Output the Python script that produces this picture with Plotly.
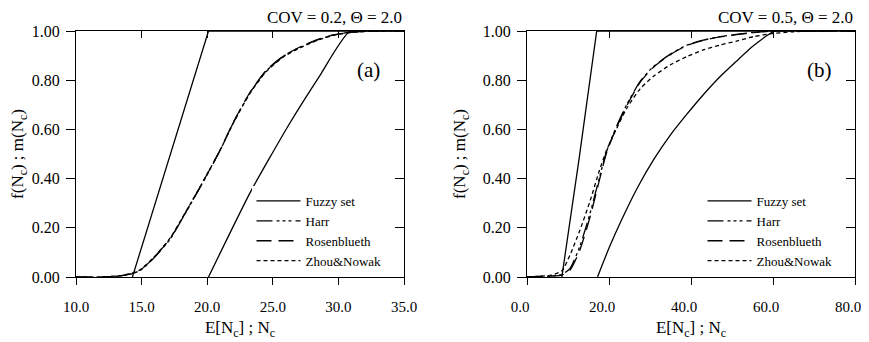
import plotly.graph_objects as go

# ---------------- data: panel (a) COV = 0.2 ----------------
a_fuzzy_lo_x = [14.3, 17.1, 20.1, 35.0]
a_fuzzy_lo_y = [0.0, 0.48, 1.0, 1.0]
a_fuzzy_hi_x = [20.1, 23.3, 26.2, 28.6, 30.9, 35.0]
a_fuzzy_hi_y = [0.0, 0.346, 0.617, 0.82, 1.0, 1.0]

a_prob_x = [10.0, 12.0, 13.0, 13.5, 14.3, 14.9, 15.9, 17.2, 18.4, 19.7, 21.0, 22.0, 23.3, 24.5, 25.8, 27.1, 28.3, 29.6, 30.9, 33.0, 35.0]
a_harr_y = [0.0, 0.0, 0.003, 0.006, 0.014, 0.027, 0.075, 0.156, 0.265, 0.387, 0.516, 0.628, 0.752, 0.838, 0.897, 0.935, 0.962, 0.983, 0.995, 1.0, 1.0]
a_rosen_y = [0.0, 0.0, 0.003, 0.006, 0.014, 0.028, 0.077, 0.158, 0.267, 0.389, 0.518, 0.630, 0.754, 0.840, 0.898, 0.936, 0.963, 0.984, 0.995, 1.0, 1.0]
a_zhou_y = [0.0, 0.0, 0.004, 0.007, 0.016, 0.030, 0.078, 0.160, 0.268, 0.390, 0.517, 0.627, 0.750, 0.835, 0.894, 0.932, 0.960, 0.982, 0.994, 1.0, 1.0]

# ---------------- data: panel (b) COV = 0.5 ----------------
b_fuzzy_lo_x = [8.5, 12.7, 17.0, 80.0]
b_fuzzy_lo_y = [0.0, 0.48, 1.0, 1.0]
b_fuzzy_hi_x = [17.2, 20.0, 23.0, 27.0, 31.0, 35.0, 39.0, 43.0, 47.0, 51.0, 55.0, 60.5, 80.0]
b_fuzzy_hi_y = [0.0, 0.118, 0.23, 0.365, 0.48, 0.578, 0.662, 0.741, 0.813, 0.876, 0.937, 1.0, 1.0]

b_prob_x = [0.0, 3.2, 6.0, 8.5, 10.5, 12.9, 15.4, 17.6, 19.4, 21.9, 24.3, 27.6, 30.8, 34.9, 39.0, 43.0, 47.1, 51.1, 55.2, 60.1, 65.0, 70.0, 80.0]
b_harr_y = [0.0, 0.002, 0.004, 0.01, 0.035, 0.125, 0.26, 0.40, 0.51, 0.615, 0.70, 0.795, 0.855, 0.905, 0.943, 0.963, 0.977, 0.986, 0.994, 1.0, 1.0, 1.0, 1.0]
b_rosen_y = [0.0, 0.002, 0.004, 0.008, 0.028, 0.11, 0.245, 0.39, 0.505, 0.61, 0.695, 0.792, 0.852, 0.903, 0.941, 0.962, 0.976, 0.985, 0.993, 1.0, 1.0, 1.0, 1.0]
b_zhou_y = [0.0, 0.003, 0.008, 0.025, 0.09, 0.19, 0.31, 0.43, 0.515, 0.605, 0.685, 0.765, 0.815, 0.862, 0.896, 0.923, 0.943, 0.959, 0.977, 0.99, 0.997, 1.0, 1.0]

a_xticks = [10, 15, 20, 25, 30, 35]
a_xlabels = ["10.0", "15.0", "20.0", "25.0", "30.0", "35.0"]
b_xticks = [0, 20, 40, 60, 80]
b_xlabels = ["0.0", "20.0", "40.0", "60.0", "80.0"]
yticks = [0.0, 0.2, 0.4, 0.6, 0.8, 1.0]
ylabels = ["0.00", "0.20", "0.40", "0.60", "0.80", "1.00"]

series_names = ["Fuzzy set", "Harr", "Rosenblueth", "Zhou&Nowak"]
titles = ["COV = 0.2, Θ = 2.0", "COV = 0.5, Θ = 2.0"]
panel_tags = ["(a)", "(b)"]

FONT = "Liberation Serif, DejaVu Serif, serif"
LW = 1.3
DASH_HARR = "16px,4px,3px,3px,3px,3px,3px,4px"
DASH_ROSEN = "15px,7px"
DASH_ZHOU = "4px,3px"

fig = go.Figure()

panels = [
    dict(xa="x", ya="y", legend="legend", lo=(a_fuzzy_lo_x, a_fuzzy_lo_y), hi=(a_fuzzy_hi_x, a_fuzzy_hi_y),
         px=a_prob_x, harr=a_harr_y, rosen=a_rosen_y, zhou=a_zhou_y),
    dict(xa="x2", ya="y2", legend="legend2", lo=(b_fuzzy_lo_x, b_fuzzy_lo_y), hi=(b_fuzzy_hi_x, b_fuzzy_hi_y),
         px=b_prob_x, harr=b_harr_y, rosen=b_rosen_y, zhou=b_zhou_y),
]

for p in panels:
    common = dict(xaxis=p["xa"], yaxis=p["ya"], legend=p["legend"], mode="lines", hoverinfo="skip")
    fig.add_trace(go.Scatter(x=p["lo"][0], y=p["lo"][1], name=series_names[0],
                             line=dict(color="black", width=LW), **common))
    fig.add_trace(go.Scatter(x=p["px"], y=p["harr"], name=series_names[1],
                             line=dict(color="black", width=LW, dash=DASH_HARR, shape="spline", smoothing=0.6), **common))
    fig.add_trace(go.Scatter(x=p["px"], y=p["rosen"], name=series_names[2],
                             line=dict(color="black", width=LW, dash=DASH_ROSEN, shape="spline", smoothing=0.6), **common))
    fig.add_trace(go.Scatter(x=p["px"], y=p["zhou"], name=series_names[3],
                             line=dict(color="black", width=LW, dash=DASH_ZHOU, shape="spline", smoothing=0.6), **common))
    fig.add_trace(go.Scatter(x=p["hi"][0], y=p["hi"][1], name=series_names[0], showlegend=False,
                             line=dict(color="black", width=LW, shape="spline", smoothing=0.5), **common))

# The page places the figure 8 px in from the top-left corner (default body margin),
# so the figure is sized / laid out relative to that offset.
OFF = 8
W, H = 869 - OFF, 342 - OFF
ML, MR, MT, MB = 76 - OFF, 14, 31 - OFF, 65
pw = W - ML - MR
ph = H - MT - MB
dom_a = [0.0, (404 - 76) / pw]
dom_b = [(527 - 76) / pw, 1.0]

xtickfont = dict(family=FONT, size=15, color="black")
ytickfont = dict(family=FONT, size=16, color="black")
titlefont = dict(family=FONT, size=17, color="black")

def xaxis(dom, rng, tv, tt, anchor, shift=0):
    return dict(domain=dom, range=rng, tickvals=tv, ticktext=tt, ticks="outside", ticklen=7,
                tickcolor="black", tickwidth=1, showline=True, linecolor="black", linewidth=1, mirror=True,
                showgrid=False, zeroline=False, tickfont=xtickfont, ticklabelstandoff=9, ticklabelshift=shift,
                anchor=anchor, automargin=False,
                title=dict(text="E[N<sub>c</sub>] ; N<sub>c</sub>", font=titlefont, standoff=7))

def yaxis(anchor):
    return dict(domain=[0, 1], range=[0, 1], tickvals=yticks, ticktext=ylabels, ticks="outside", ticklen=9,
                tickcolor="black", tickwidth=1, showline=True, linecolor="black", linewidth=1, mirror=True,
                showgrid=False, zeroline=False, tickfont=ytickfont, ticklabelstandoff=3, anchor=anchor,
                automargin=False,
                title=dict(text="f(N<sub>c</sub>) ; m(N<sub>c</sub>)", font=titlefont, standoff=12))

def top_axis(over, dom, rng, tv, anchor):
    return dict(overlaying=over, side="top", domain=dom, range=rng, tickvals=tv, ticks="inside", ticklen=7,
                tickcolor="black", showticklabels=False, showline=False, showgrid=False, zeroline=False,
                anchor=anchor, automargin=False)

def right_axis(over, anchor):
    return dict(overlaying=over, side="right", range=[0, 1], tickvals=yticks, ticks="inside", ticklen=9,
                tickcolor="black", showticklabels=False, showline=False, showgrid=False, zeroline=False,
                anchor=anchor, automargin=False)

legend_style = dict(bgcolor="white", borderwidth=0, font=dict(family=FONT, size=13, color="black"),
                    yanchor="top", xanchor="left", tracegroupgap=0, itemwidth=44)

leg_top = 186 - OFF
fig.update_layout(
    template="none",
    width=W, height=H, margin=dict(l=ML, r=MR, t=MT, b=MB, autoexpand=False),
    paper_bgcolor="white", plot_bgcolor="white",
    font=dict(family=FONT, size=16, color="black"),
    xaxis=xaxis(dom_a, [10, 35], a_xticks, a_xlabels, "y"),
    yaxis=yaxis("x"),
    xaxis2=xaxis(dom_b, [0, 80], b_xticks, b_xlabels, "y2", shift=-7),
    yaxis2=yaxis("x2"),
    xaxis3=top_axis("x", dom_a, [10, 35], a_xticks, "y"),
    yaxis3=right_axis("y", "x"),
    xaxis4=top_axis("x2", dom_b, [0, 80], b_xticks, "y2"),
    yaxis4=right_axis("y2", "x2"),
    legend=dict(x=(251.5 - 76) / pw, y=1 - (leg_top - MT) / ph, **legend_style),
    legend2=dict(x=(702.5 - 76) / pw, y=1 - (leg_top - MT) / ph, **legend_style),
    showlegend=True,
)

# empty traces so the overlay tick axes (top / right inner ticks) are drawn
fig.add_trace(go.Scatter(x=[], y=[], xaxis="x3", yaxis="y3", showlegend=False))
fig.add_trace(go.Scatter(x=[], y=[], xaxis="x4", yaxis="y4", showlegend=False))

for i, (xref, t) in enumerate([("x domain", titles[0]), ("x2 domain", titles[1])]):
    fig.add_annotation(text=t, xref=xref, yref="paper", x=1.0, y=1.0, yshift=2, xanchor="right", yanchor="bottom",
                       showarrow=False, font=dict(family=FONT, size=17, color="black"))
    fig.add_annotation(text=panel_tags[i], xref=xref, yref="y domain" if i == 0 else "y2 domain",
                       x=0.893, y=0.84, xanchor="center", yanchor="middle",
                       showarrow=False, font=dict(family=FONT, size=21, color="black"))

fig.write_html("out.html")
